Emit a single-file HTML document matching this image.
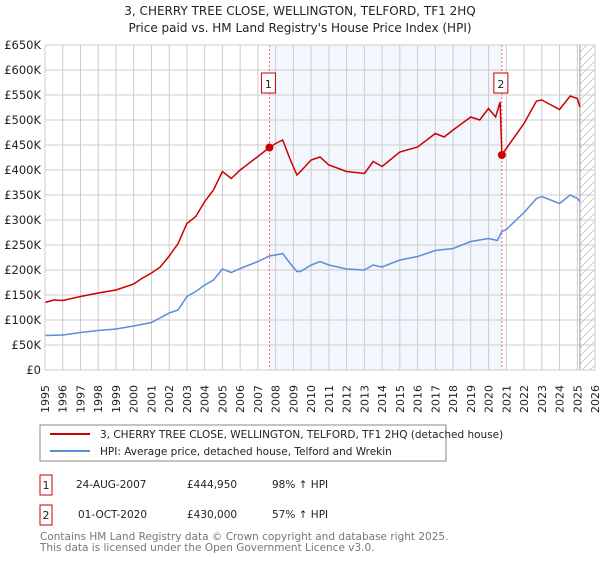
<!DOCTYPE html>
<html><head><meta charset="utf-8"><style>
body{margin:0;background:#fff;font-family:"DejaVu Sans","Liberation Sans",sans-serif;}
svg text{font-family:"DejaVu Sans","Liberation Sans",sans-serif;}
</style></head><body>
<svg id="c" width="600" height="560" xmlns="http://www.w3.org/2000/svg">
<text x="300" y="15" text-anchor="middle" font-size="12" fill="#222">3, CHERRY TREE CLOSE, WELLINGTON, TELFORD, TF1 2HQ</text>
<text x="300" y="32" text-anchor="middle" font-size="12" fill="#222">Price paid vs. HM Land Registry's House Price Index (HPI)</text>
<g id="plot"></g>
<rect x="40" y="425" width="406" height="36" fill="#fff" stroke="#888"/>
<line x1="50" y1="434" x2="90" y2="434" stroke="#cc0000" stroke-width="2"/>
<text x="100" y="438" font-size="10.5" fill="#222">3, CHERRY TREE CLOSE, WELLINGTON, TELFORD, TF1 2HQ (detached house)</text>
<line x1="50" y1="451" x2="90" y2="451" stroke="#5b8ed6" stroke-width="2"/>
<text x="100" y="455" font-size="10.5" fill="#222">HPI: Average price, detached house, Telford and Wrekin</text>
<rect x="40" y="475" width="12" height="20" fill="#fff" stroke="#cc0000"/>
<text x="46" y="489" font-size="11" text-anchor="middle" fill="#222">1</text>
<text x="76" y="488" font-size="10.5" fill="#222">24-AUG-2007</text>
<text x="187" y="488" font-size="10.5" fill="#222">£444,950</text>
<text x="272" y="488" font-size="10.5" fill="#222">98% ↑ HPI</text>
<rect x="40" y="505" width="12" height="20" fill="#fff" stroke="#cc0000"/>
<text x="46" y="519" font-size="11" text-anchor="middle" fill="#222">2</text>
<text x="78" y="518" font-size="10.5" fill="#222">01-OCT-2020</text>
<text x="187" y="518" font-size="10.5" fill="#222">£430,000</text>
<text x="272" y="518" font-size="10.5" fill="#222">57% ↑ HPI</text>
<text x="40" y="540" font-size="10.5" fill="#777">Contains HM Land Registry data © Crown copyright and database right 2025.</text>
<text x="40" y="551" font-size="10.5" fill="#777">This data is licensed under the Open Government Licence v3.0.</text>
</svg>
<script>
const hpiYears=[1995,1996,1997,1998,1999,2000,2001,2002,2002.5,2003,2003.5,2004,2004.5,2005,2005.5,2006,2007,2007.65,2008,2008.4,2008.8,2009.2,2009.4,2010,2010.5,2011,2012,2013,2013.5,2014,2015,2016,2017,2018,2019,2020,2020.5,2020.75,2021,2022,2022.7,2023,2024,2024.6,2025,2025.15];
const hpiValues=[69,70,75,79,82,88,95,114,120,147,157,170,180,202,195,203,217,228,230,233,214,197,197,210,217,210,202,200,210,206,220,227,239,243,257,263,259,277,281,315,343,347,333,350,343,337];
const propYears=[1995,1995.5,1996,1997,1998,1999,2000,2000.5,2001,2001.5,2002,2002.5,2003,2003.5,2004,2004.5,2005,2005.5,2006,2007,2007.65,2008,2008.4,2008.8,2009.2,2009.4,2010,2010.5,2011,2012,2013,2013.5,2014,2015,2016,2017,2017.5,2018,2019,2019.5,2020,2020.4,2020.65,2020.75,2021,2022,2022.7,2023,2024,2024.6,2025,2025.15];
const propValues=[135,140,139,147,154,160,172,184,194,206,228,253,293,307,337,360,397,383,400,427,445,453,460,423,390,397,420,426,410,397,393,417,407,436,446,473,466,480,506,500,523,506,536,431,443,493,538,540,521,548,543,526];
const saleYears=[2007.65,2020.75];
const saleValues=[444.95,430];
const saleLabels=["1","2"];
const yTicks=[0,50,100,150,200,250,300,350,400,450,500,550,600,650];
const xTicks=[1995,1996,1997,1998,1999,2000,2001,2002,2003,2004,2005,2006,2007,2008,2009,2010,2011,2012,2013,2014,2015,2016,2017,2018,2019,2020,2021,2022,2023,2024,2025,2026];

const L=45,R=595,T=45,B=370;
const x=y=>L+(y-1995)*(R-L)/31;
const yv=v=>B-v*(B-T)/650;
const NS="http://www.w3.org/2000/svg";
const g=document.getElementById('plot');
function mk(tag,attrs,parent){const e=document.createElementNS(NS,tag);for(const k in attrs)e.setAttribute(k,attrs[k]);(parent||g).appendChild(e);return e;}

let sh=mk('rect',{x:x(saleYears[0]),y:T,width:x(saleYears[1])-x(saleYears[0]),height:B-T,fill:'#f2f6fd'});


const defs=mk('defs',{});
const pat=mk('pattern',{id:'hatch',width:8,height:8,patternUnits:'userSpaceOnUse'},defs);
mk('path',{d:'M0,8 L8,0',stroke:'#ccc','stroke-width':1},pat);
let ht=mk('rect',{x:x(2025.15),y:T,width:R-x(2025.15),height:B-T,fill:'url(#hatch)'});



yTicks.forEach(v=>{
  let l=mk('line',{x1:L,x2:R,y1:yv(v),y2:yv(v),stroke:'#ccc','stroke-width':1});
  
  
  let t=mk('text',{x:L-4,y:yv(v)+4,'text-anchor':'end','font-size':11.5,fill:'#222'});
  t.textContent=v===0?'£0':'£'+v+'K';
  
  
});
xTicks.forEach(yr=>{
  let l=mk('line',{x1:x(yr),x2:x(yr),y1:T,y2:B,stroke:'#ccc','stroke-width':1});
  
  
  let t=mk('text',{transform:`translate(${x(yr)+4},${B+43}) rotate(-90)`,'font-size':11,fill:'#222'});
  t.textContent=yr;
  
  
});
let vl=mk('line',{x1:x(2025.15),x2:x(2025.15),y1:T,y2:B,stroke:'#999','stroke-width':1});



saleYears.forEach((s,i)=>{
  let d=mk('line',{x1:x(s),x2:x(s),y1:T,y2:B,stroke:'#f07070','stroke-width':1,'stroke-dasharray':'2,2'});
  
  
});
const pts=(xs,vs)=>xs.map((a,i)=>x(a).toFixed(1)+','+yv(vs[i]).toFixed(1)).join(' ');
let hp=mk('polyline',{points:pts(hpiYears,hpiValues),fill:'none',stroke:'#5b8ed6','stroke-width':1.5});


let pp=mk('polyline',{points:pts(propYears,propValues),fill:'none',stroke:'#cc0000','stroke-width':1.5});


saleYears.forEach((s,i)=>{
  let c=mk('circle',{cx:x(s),cy:yv(saleValues[i]),r:4,fill:'#cc0000'});
  
  
  let b=mk('rect',{x:x(s)-8,y:73,width:14,height:20,fill:'#fff',stroke:'#cc0000'});
  
  
  let t=mk('text',{x:x(s)-1,y:88,'text-anchor':'middle','font-size':11,fill:'#222'});
  t.textContent=saleLabels[i];
  
  
});
mk('rect',{x:L,y:T,width:R-L,height:B-T,fill:'none',stroke:'#ccc'});
</script>
</body></html>
